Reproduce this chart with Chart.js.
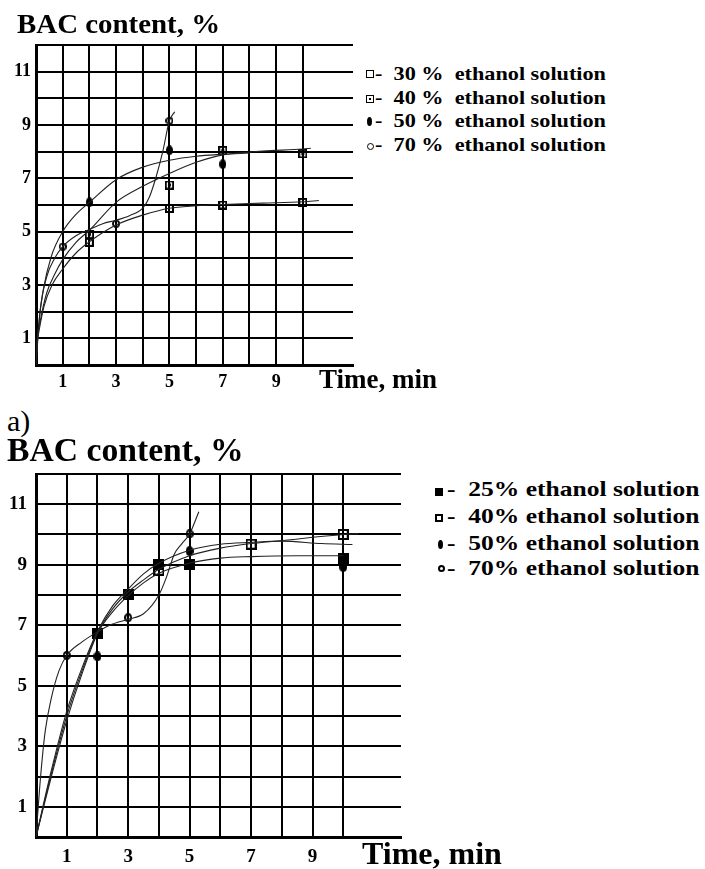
<!DOCTYPE html>
<html>
<head>
<meta charset="utf-8">
<script src="https://cdn.jsdelivr.net/npm/chart.js@4.4.0/dist/chart.umd.min.js"></script>
<style>
  body { margin: 0; background: #fff; width: 705px; height: 869px; position: relative; overflow: hidden;
         font-family: 'Liberation Serif', 'Times New Roman', serif; color: #000; }
  canvas { position: absolute; left: 0; }
  .txt { position: absolute; white-space: pre; line-height: 1; font-weight: bold; transform-origin: 0 0; }
  .mk { position: absolute; box-sizing: border-box; }
</style>
</head>
<body>
<canvas id="chartA" width="360" height="400" style="top:0"></canvas>
<canvas id="chartB" width="410" height="429" style="top:440px"></canvas>

<div class="txt" style="left:17px; top:11px; font-size:27px; transform:scaleX(1.07);">BAC content, %</div>
<div class="txt" style="left:319px; top:366px; font-size:27px;">Time, min</div>
<div class="txt" style="left:7px; top:406px; font-size:30px; font-weight:normal;">a)</div>
<div class="txt" style="left:7px; top:434px; font-size:33px; transform:scaleX(1.02);">BAC content, %</div>
<div class="txt" style="left:362px; top:837px; font-size:32px;">Time, min</div>
<div id="legends"></div>

<script>
// time axis: minutes, value axis: BAC content, %
const X_MAX = 11.88;
const Y_MAX = 12;

// ---- a) measured points
const timeA30 = [2, 5, 7, 10];
const bacA30 = [4.6, 5.87, 6.0, 6.1];
const timeA40 = [2, 5, 7, 10];
const bacA40 = [4.9, 6.75, 8.04, 7.92];
const timeA50 = [2, 5, 7];
const bacA50 = [6.1, 8.05, 7.53];
const timeA70 = [1, 3, 5];
const bacA70 = [4.44, 5.3, 9.16];

// ---- a) fitted curves (read off the picture)
const fitTimeA30 = [0, 0.04, 0.1, 0.3, 0.6, 1, 1.5, 2, 3, 4, 5, 6, 7, 8.5, 10, 10.6];
const fitBacA30 = [0, 0.8, 1.2, 2.2, 3.0, 3.6, 4.2, 4.62, 5.25, 5.62, 5.88, 5.97, 6.02, 6.07, 6.12, 6.17];
const fitTimeA40 = [0, 0.04, 0.15, 0.4, 0.7, 1, 1.5, 2, 3, 4, 5, 6, 7, 8.5, 10, 10.3];
const fitBacA40 = [0, 0.9, 1.6, 2.7, 3.4, 3.95, 4.6, 5.05, 6.1, 6.7, 7.18, 7.6, 7.88, 8.02, 8.1, 8.13];
const fitTimeA50 = [0, 0.1, 0.27, 0.57, 1, 1.5, 2, 3, 4, 5, 6, 7, 8];
const fitBacA50 = [0, 1.5, 2.8, 4.06, 5.0, 5.65, 6.1, 6.95, 7.42, 7.68, 7.83, 7.9, 7.95];
const fitTimeA70 = [0, 0.15, 0.4, 0.7, 1, 1.5, 2, 2.5, 3, 3.5, 4, 4.25, 4.5, 4.75, 5, 5.2];
const fitBacA70 = [0, 2.0, 3.3, 4.0, 4.44, 4.85, 5.08, 5.3, 5.43, 5.6, 5.88, 6.3, 7.05, 8.0, 9.16, 9.5];

// ---- b) measured points
const timeB25 = [2, 3, 4, 5, 10];
const bacB25 = [6.72, 8.02, 9.0, 9.0, 9.22];
const timeB40 = [4, 7, 10];
const bacB40 = [8.82, 9.68, 10.0];
const timeB50 = [2, 5, 10];
const bacB50 = [5.97, 9.45, 8.92];
const timeB70 = [1, 3, 5];
const bacB70 = [6.0, 7.25, 10.02];

// ---- b) fitted curves
const fitTimeB25 = [0, 0.5, 1, 1.5, 2, 2.5, 3, 3.5, 4, 5, 6, 7, 8.5, 10];
const fitBacB25 = [0, 2.0, 3.85, 5.4, 6.72, 7.45, 7.98, 8.4, 8.72, 9.05, 9.22, 9.27, 9.3, 9.3];
const fitTimeB40 = [0, 0.5, 1, 1.5, 2, 2.5, 3, 3.5, 4, 5, 6, 7, 8, 10, 10.5];
const fitBacB40 = [0, 2.1, 4.0, 5.5, 6.75, 7.55, 8.1, 8.5, 8.85, 9.3, 9.55, 9.7, 9.8, 10.0, 10.03];
const fitTimeB50 = [0, 0.5, 1, 1.5, 2, 2.5, 3, 3.5, 4, 5, 6, 7, 8, 9.3, 10.3];
const fitBacB50 = [0, 2.2, 4.15, 5.6, 6.8, 7.65, 8.2, 8.7, 9.05, 9.48, 9.68, 9.74, 9.78, 9.7, 9.67];
const fitTimeB70 = [0, 0.15, 0.3, 0.5, 0.75, 1, 1.5, 2, 2.4, 3, 3.5, 4, 4.25, 4.5, 4.75, 5, 5.3];
const fitBacB70 = [0, 2.0, 3.5, 4.6, 5.5, 6.0, 6.45, 6.78, 7.0, 7.2, 7.38, 8.0, 8.6, 9.35, 9.7, 10.02, 10.75];

const legendA = ['-  30 %  ethanol solution', '-  40 %  ethanol solution', '-  50 %  ethanol solution', '-  70 %  ethanol solution'];
const legendB = ['-  25% ethanol solution', '-  40% ethanol solution', '-  50% ethanol solution', '-  70% ethanol solution'];

const pts = (xs, ys) => xs.map((x, i) => ({ x: x, y: ys[i] }));

// little canvases used as point symbols
function marker(kind, w, h, lw) {
    const c = document.createElement('canvas');
    c.width = w; c.height = h;
    const g = c.getContext('2d');
    g.strokeStyle = '#000'; g.fillStyle = '#000'; g.lineWidth = lw || 2;
    const o = (lw || 2) / 2;
    if (kind === 'sq') {
        g.strokeRect(o, o, w - 2 * o, h - 2 * o);
    } else if (kind === 'sqDot') {
        g.strokeRect(o, o, w - 2 * o, h - 2 * o);
        g.fillRect(w / 2 - 1.5, h / 2 - 1.5, 3, 3);
    } else if (kind === 'sqFill') {
        g.fillRect(0, 0, w, h);
    } else if (kind === 'ell') {
        g.beginPath(); g.ellipse(w / 2, h / 2, w / 2, h / 2, 0, 0, Math.PI * 2); g.fill();
    } else if (kind === 'ring') {
        g.beginPath(); g.ellipse(w / 2, h / 2, w / 2 - o, h / 2 - o, 0, 0, Math.PI * 2); g.stroke();
    }
    return c;
}

function curve(xs, ys) {
    return { data: pts(xs, ys), showLine: true, pointRadius: 0, borderColor: '#222', borderWidth: 1.1,
             cubicInterpolationMode: 'monotone', fill: false };
}
function dots(xs, ys, style) {
    return { data: pts(xs, ys), showLine: false, pointStyle: style, pointRadius: 5 };
}

function buildChart(id, datasets, lay) {
    const font = { family: "'Liberation Serif', serif", weight: 'bold', size: lay.fontSize };
    return new Chart(document.getElementById(id), {
        type: 'scatter',
        data: { datasets: datasets },
        options: {
            responsive: false,
            animation: false,
            layout: { padding: { left: 0, top: lay.top, right: lay.right, bottom: 0 } },
            plugins: { legend: { display: false }, tooltip: { enabled: false } },
            scales: {
                x: {
                    type: 'linear', min: 0, max: X_MAX,
                    afterFit: s => { s.height = lay.xH; },
                    border: { display: true, width: 3, color: '#000' },
                    grid: { drawTicks: false, lineWidth: 2,
                            color: c => (c.tick && Number.isInteger(c.tick.value) && c.tick.value > 0) ? '#000' : 'rgba(0,0,0,0)' },
                    ticks: { stepSize: 1, autoSkip: false, maxRotation: 0, padding: lay.xPad, color: '#000', font: font,
                             callback: v => (v % 2 === 1 && v <= 9) ? String(v) : '' }
                },
                y: {
                    min: 0, max: Y_MAX,
                    afterFit: s => { s.width = lay.yW; },
                    border: { display: true, width: 3, color: '#000' },
                    grid: { drawTicks: false, lineWidth: 2,
                            color: c => (c.tick && c.tick.value > 0) ? '#000' : 'rgba(0,0,0,0)' },
                    ticks: { stepSize: 1, autoSkip: false, padding: lay.yPad, color: '#000', font: font,
                             callback: v => (v % 2 === 1) ? String(v) : '' }
                }
            }
        }
    });
}

buildChart('chartA', [
    curve(fitTimeA30, fitBacA30),
    curve(fitTimeA40, fitBacA40),
    curve(fitTimeA50, fitBacA50),
    curve(fitTimeA70, fitBacA70),
    dots(timeA30, bacA30, marker('sq', 9, 9, 2)),
    dots(timeA40, bacA40, marker('sqDot', 9, 9, 1.8)),
    dots(timeA50, bacA50, marker('ell', 7, 10)),
    dots(timeA70, bacA70, marker('ring', 8, 8, 1.8))
], { top: 45, right: 7, xH: 35, yW: 36, xPad: 7, yPad: 5, fontSize: 18 });

buildChart('chartB', [
    curve(fitTimeB25, fitBacB25),
    curve(fitTimeB40, fitBacB40),
    curve(fitTimeB50, fitBacB50),
    curve(fitTimeB70, fitBacB70),
    dots(timeB25, bacB25, marker('sqFill', 11, 11)),
    dots(timeB40, bacB40, marker('sq', 11, 11, 2)),
    dots(timeB50, bacB50, marker('ell', 8, 10)),
    dots(timeB70, bacB70, marker('ring', 8, 9, 2))
], { top: 34, right: 7, xH: 32, yW: 36, xPad: 9, yPad: 9, fontSize: 19 });

// legends beside each chart
function addLegend(labels, rows) {
    const box = document.getElementById('legends');
    labels.forEach((t, i) => {
        const r = rows[i];
        const m = document.createElement('span');
        m.className = 'mk';
        m.style.cssText += `left:${r.mx}px; top:${r.my}px; width:${r.mw}px; height:${r.mh}px;` + r.css;
        box.appendChild(m);
        if (r.dot) {
            const d = document.createElement('span');
            d.className = 'mk';
            d.style.cssText += `left:${r.mx + r.mw / 2 - 1}px; top:${r.my + r.mh / 2 - 1}px; width:2px; height:2px; background:#000;`;
            box.appendChild(d);
        }
        const s = document.createElement('div');
        s.className = 'txt';
        s.textContent = t;
        s.style.cssText += `left:${r.tx}px; top:${r.ty}px; font-size:${r.fs}px; transform:scaleX(${r.sx});`;
        box.appendChild(s);
    });
}

addLegend(legendA, [
    { mx: 366, my: 70, mw: 8, mh: 8, css: 'border:1.6px solid #000;', tx: 375, ty: 64, fs: 19, sx: 1.17 },
    { mx: 366, my: 95, mw: 8, mh: 8, css: 'border:1.4px solid #000;', dot: true, tx: 375, ty: 88, fs: 19, sx: 1.17 },
    { mx: 367, my: 117, mw: 5, mh: 9, css: 'background:#000; border-radius:50%;', tx: 375, ty: 111, fs: 19, sx: 1.17 },
    { mx: 367, my: 143, mw: 7, mh: 7, css: 'border:1.6px solid #000; border-radius:50%;', tx: 375, ty: 135, fs: 19, sx: 1.17 }
]);

addLegend(legendB, [
    { mx: 435, my: 488, mw: 8, mh: 8, css: 'background:#000;', tx: 447, ty: 478, fs: 22, sx: 1.16 },
    { mx: 435, my: 514, mw: 8, mh: 8, css: 'border:2px solid #000;', tx: 447, ty: 505, fs: 22, sx: 1.16 },
    { mx: 438, my: 540, mw: 5, mh: 9, css: 'background:#000; border-radius:50%;', tx: 447, ty: 532, fs: 22, sx: 1.16 },
    { mx: 438, my: 565, mw: 7, mh: 7, css: 'border:2px solid #000; border-radius:50%;', tx: 447, ty: 557, fs: 22, sx: 1.16 }
]);
</script>
</body>
</html>
